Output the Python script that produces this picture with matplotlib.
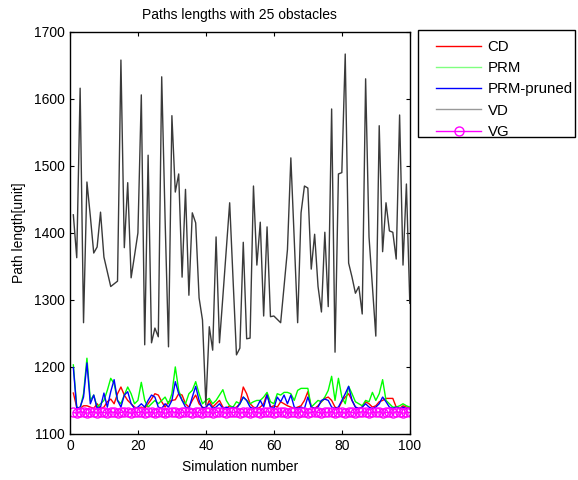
import matplotlib
matplotlib.use("Agg")
import matplotlib.pyplot as plt
from matplotlib.patches import Rectangle
import numpy as np

plt.rcParams['font.family'] = ['Liberation Sans', 'DejaVu Sans']

sim = list(range(1, 101))

vd = [1427, 1363, 1616, 1266, 1476, 1425, 1370, 1379, 1431, 1364,
      1342, 1320, 1324, 1328, 1658, 1378, 1475, 1333, 1366, 1400,
      1606, 1233, 1516, 1236, 1258, 1245, 1633, 1420, 1230, 1575,
      1461, 1488, 1334, 1465, 1307, 1430, 1415, 1303, 1270, 1143,
      1260, 1225, 1394, 1236, 1305, 1375, 1445, 1330, 1218, 1228,
      1386, 1242, 1243, 1470, 1352, 1416, 1276, 1409, 1275, 1276,
      1271, 1266, 1320, 1375, 1512, 1390, 1266, 1430, 1470, 1467,
      1346, 1398, 1320, 1282, 1401, 1290, 1585, 1222, 1488, 1490,
      1667, 1355, 1334, 1310, 1320, 1279, 1630, 1394, 1320, 1246,
      1560, 1372, 1445, 1403, 1401, 1361, 1576, 1352, 1473, 1295]

cd = [1161, 1140, 1138, 1142, 1142, 1140, 1138, 1145, 1138, 1140,
      1148, 1152, 1145, 1160, 1170, 1158, 1150, 1145, 1140, 1138,
      1140, 1138, 1145, 1152, 1160, 1158, 1148, 1140, 1148, 1150,
      1151, 1160, 1158, 1145, 1140, 1150, 1158, 1145, 1140, 1138,
      1150, 1140, 1145, 1150, 1140, 1138, 1142, 1138, 1140, 1145,
      1170, 1160, 1145, 1140, 1138, 1140, 1145, 1160, 1140, 1142,
      1140, 1148, 1145, 1142, 1140, 1138, 1140, 1142, 1150, 1163,
      1140, 1138, 1142, 1148, 1153, 1155, 1150, 1140, 1138, 1148,
      1155, 1160, 1150, 1140, 1138, 1140, 1148, 1145, 1140, 1142,
      1148, 1150, 1153, 1153, 1153, 1140, 1138, 1142, 1140, 1138]

prm = [1203, 1140, 1138, 1160, 1213, 1150, 1158, 1140, 1145, 1150,
       1165, 1183, 1175, 1150, 1145, 1158, 1170, 1160, 1145, 1150,
       1177, 1150, 1140, 1145, 1150, 1145, 1150, 1155, 1145, 1160,
       1200, 1165, 1150, 1145, 1160, 1165, 1178, 1160, 1145, 1150,
       1153, 1145, 1150, 1158, 1166, 1150, 1142, 1140, 1148, 1145,
       1155, 1150, 1145, 1148, 1150, 1150, 1155, 1162, 1148, 1145,
       1160, 1158, 1162, 1162, 1160, 1150, 1165, 1168, 1168, 1168,
       1140, 1145, 1150, 1148, 1155, 1165, 1186, 1150, 1183, 1155,
       1145, 1171, 1160, 1148, 1145, 1142, 1150, 1148, 1162, 1150,
       1160, 1181, 1150, 1145, 1140, 1140, 1142, 1145, 1142, 1140]

prm_pruned = [1199, 1138, 1140, 1155, 1206, 1145, 1158, 1138, 1140, 1161,
              1140, 1163, 1181, 1150, 1140, 1158, 1163, 1145, 1138, 1140,
              1145, 1140, 1150, 1158, 1155, 1140, 1138, 1145, 1140, 1150,
              1178, 1160, 1150, 1140, 1138, 1155, 1171, 1150, 1138, 1140,
              1145, 1138, 1140, 1145, 1138, 1140, 1138, 1140, 1138, 1145,
              1155, 1150, 1140, 1138, 1140, 1150, 1140, 1158, 1140, 1138,
              1155, 1148, 1158, 1145, 1158, 1140, 1138, 1140, 1138, 1155,
              1140, 1138, 1140, 1150, 1152, 1150, 1140, 1138, 1140, 1150,
              1160, 1171, 1150, 1140, 1138, 1140, 1145, 1140, 1138, 1140,
              1145, 1155, 1148, 1140, 1138, 1140, 1138, 1140, 1138, 1138]

vg = [1132, 1131, 1133, 1132, 1131, 1132, 1133, 1131, 1132, 1132,
      1131, 1133, 1132, 1131, 1132, 1133, 1132, 1131, 1132, 1132,
      1133, 1131, 1132, 1132, 1131, 1133, 1132, 1131, 1132, 1133,
      1132, 1131, 1132, 1132, 1133, 1131, 1132, 1132, 1131, 1133,
      1132, 1131, 1132, 1133, 1132, 1131, 1132, 1132, 1133, 1131,
      1132, 1132, 1131, 1133, 1132, 1131, 1132, 1133, 1132, 1131,
      1132, 1132, 1133, 1131, 1132, 1132, 1131, 1133, 1132, 1131,
      1132, 1133, 1132, 1131, 1132, 1132, 1133, 1131, 1132, 1132,
      1131, 1133, 1132, 1131, 1132, 1133, 1132, 1131, 1132, 1132,
      1133, 1131, 1132, 1132, 1131, 1133, 1132, 1131, 1132, 1132]

series_names = ['CD', 'PRM', 'PRM-pruned', 'VD', 'VG']
x_ticks = [0, 20, 40, 60, 80, 100]
y_ticks = [1100, 1200, 1300, 1400, 1500, 1600, 1700]

fig = plt.figure(figsize=(5.78, 4.8), dpi=100)
ax = fig.add_axes([0.121, 0.096, 0.588, 0.8375])

ax.plot(sim, cd, color='#ff0000', lw=1.0, label=series_names[0])
ax.plot(sim, prm, color='#00ff00', lw=1.0, label=series_names[1])
ax.plot(sim, prm_pruned, color='#0000ff', lw=1.0, label=series_names[2])
ax.plot(sim, vd, color='#3a3a3a', lw=1.0, label=series_names[3])
ax.plot(sim, vg, color='#ff00ff', lw=1.0, marker='o', markersize=6.5,
        markerfacecolor='none', markeredgewidth=1.0, label=series_names[4])

ax.set_xlim(0, 100)
ax.set_ylim(1100, 1700)
ax.set_xticks(x_ticks)
ax.set_yticks(y_ticks)
ax.tick_params(direction='in', length=3, top=True, right=True, labelsize=10, width=0.8)
for s in ax.spines.values():
    s.set_linewidth(1.0)

ax.set_title('Paths lengths with 25 obstacles', fontsize=10, pad=9)
ax.set_xlabel('Simulation number', fontsize=10, labelpad=5)
ax.set_ylabel('Path length[unit]', fontsize=10, labelpad=6)

# legend frame (drawn separately to match the reference's padding)
frame = Rectangle((418 / 578, 1 - 137 / 480), 157 / 578, 107 / 480,
                  transform=fig.transFigure, facecolor='white',
                  edgecolor='black', linewidth=1.0, zorder=1)
fig.patches.append(frame)

leg = fig.legend(loc='upper left', bbox_to_anchor=(436 / 578, 1 - 40 / 480),
                 bbox_transform=fig.transFigure, borderaxespad=0,
                 fontsize=10.8, frameon=False, handlelength=3.0,
                 handletextpad=0.45, labelspacing=0.48, borderpad=0)
leg.set_zorder(2)
legend_colors = ['#ff0000', '#80ff80', '#0000ff', '#999999', '#ff00ff']
for line, c in zip(leg.get_lines(), legend_colors):
    line.set_color(c)

fig.savefig('out.png', dpi=100)
